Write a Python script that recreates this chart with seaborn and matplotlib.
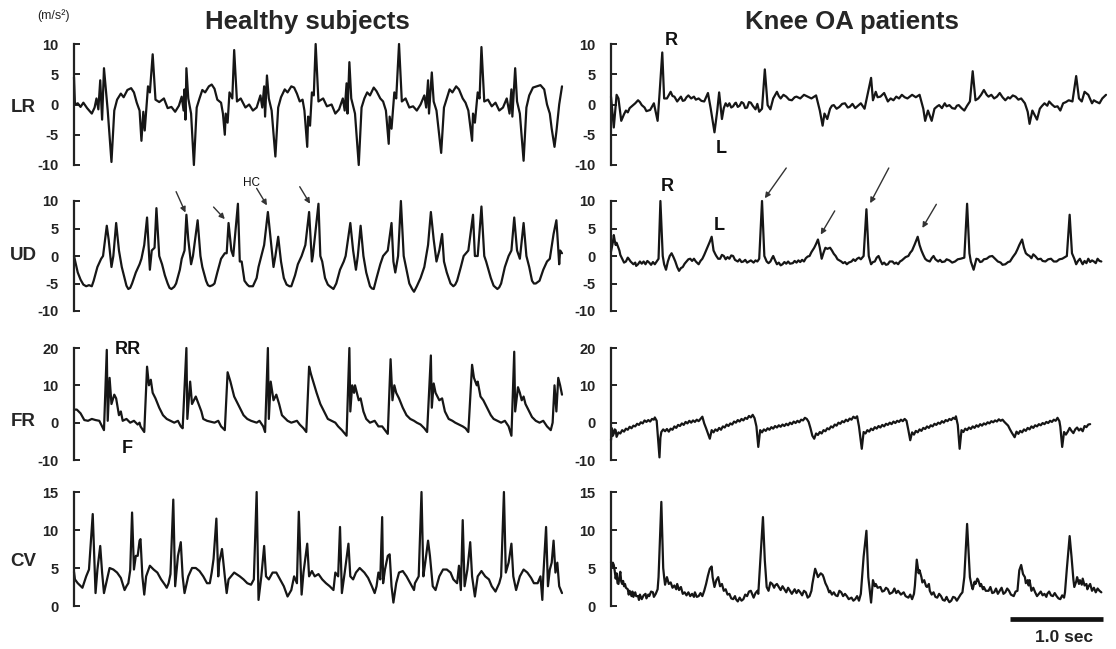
import matplotlib
matplotlib.use("Agg")
import matplotlib.pyplot as plt
import pandas as pd
import seaborn as sns

sns.set_style("white")
plt.rcParams["font.family"] = ["Liberation Sans", "DejaVu Sans"]
plt.rcParams["axes.unicode_minus"] = False

# ---------------- data (time in s, acceleration in m/s^2) ----------------
LR_HEALTHY = [
    (0.00, 4.5), (0.01, 0.0), (0.04, 0.2), (0.07, -0.4), (0.10, 0.3), (0.14, -0.6), (0.19, -1.5),
    (0.22, -0.5), (0.24, 1.0), (0.26, -0.8), (0.28, 4.0), (0.30, -2.5), (0.32, 6.0), (0.34, 2.5),
    (0.36, -1.0), (0.40, -9.5),
    (0.43, -1.0), (0.46, 0.8), (0.50, 1.8), (0.53, 1.2), (0.57, 2.4), (0.61, 2.7), (0.64, 2.0),
    (0.67, 0.3), (0.70, -1.0), (0.72, -6.0), (0.74, -1.2), (0.755, -4.3), (0.79, 3.0), (0.81, 2.0),
    (0.84, 8.3), (0.87, 0.8), (0.91, 0.4), (0.96, 1.0), (1.00, -0.6), (1.04, -0.4), (1.08, -1.2),
    (1.12, -0.2), (1.15, 1.3), (1.17, -1.0), (1.18, 2.5), (1.19, -2.5), (1.20, 6.0), (1.22, 1.0),
    (1.25, -1.5), (1.28, -10.0),
    (1.31, -0.5), (1.34, 1.0), (1.37, 2.4), (1.40, 2.0), (1.44, 3.0), (1.47, 3.3), (1.50, 2.6),
    (1.53, 0.8), (1.57, 0.3), (1.59, -1.5), (1.61, -5.0), (1.62, -1.5), (1.64, -3.0), (1.66, 2.0),
    (1.69, 1.0), (1.71, 9.0), (1.74, 0.5), (1.78, 1.0), (1.83, -0.5), (1.87, 0.0), (1.91, -1.0),
    (1.95, -0.5), (1.99, 1.5), (2.01, -0.5), (2.03, 3.0), (2.04, -2.0), (2.06, 4.8), (2.08, 1.0),
    (2.11, -1.0), (2.15, -8.6),
    (2.18, -0.5), (2.21, 1.2), (2.25, 2.5), (2.28, 2.0), (2.32, 3.0), (2.35, 2.8), (2.38, 1.8),
    (2.41, 0.5), (2.44, 0.8), (2.46, -1.0), (2.49, -7.0), (2.50, -2.0), (2.52, -3.5), (2.54, 2.0),
    (2.56, 1.5), (2.58, 10.0), (2.61, 0.5), (2.66, 1.0), (2.70, -0.3), (2.75, 0.0), (2.79, -1.5),
    (2.83, -0.8), (2.87, 1.0), (2.89, -1.0), (2.91, 3.5), (2.92, -1.5), (2.94, 7.0), (2.96, 1.0),
    (3.00, -1.5), (3.04, -10.0),
    (3.07, -0.5), (3.10, 1.0), (3.13, 2.0), (3.16, 1.5), (3.20, 2.8), (3.23, 2.2), (3.27, 1.0),
    (3.30, 0.5), (3.33, -1.0), (3.36, -6.5), (3.37, -2.0), (3.39, -4.0), (3.42, 2.0), (3.44, 1.0),
    (3.47, 10.0), (3.50, 0.5), (3.54, 1.0), (3.58, -0.5), (3.62, -0.3), (3.66, -1.0), (3.70, 0.0),
    (3.74, 1.5), (3.76, -0.5), (3.78, 4.0), (3.79, -1.5), (3.82, 5.3), (3.84, 0.5), (3.87, -1.0),
    (3.92, -8.0),
    (3.95, -0.5), (3.98, 1.0), (4.01, 2.5), (4.04, 2.0), (4.08, 3.0), (4.11, 2.5), (4.15, 1.0),
    (4.18, 0.3), (4.21, -1.0), (4.25, -6.0), (4.26, -1.5), (4.28, -3.0), (4.31, 2.0), (4.33, 1.0),
    (4.35, 9.5), (4.38, 0.5), (4.42, 0.8), (4.46, -0.3), (4.50, 0.3), (4.54, -1.0), (4.58, -0.5),
    (4.62, 1.0), (4.65, -1.5), (4.67, 2.5), (4.68, -2.0), (4.71, 6.0), (4.73, 0.5), (4.76, -1.5),
    (4.80, -9.3),
    (4.83, -0.5), (4.86, 1.5), (4.90, 2.8), (4.94, 3.0), (4.98, 3.2), (5.02, 2.5), (5.05, 0.0),
    (5.08, -1.5), (5.10, -4.0), (5.13, -7.0), (5.15, -4.5), (5.18, 0.0), (5.21, 3.0),
]

LR_OA = [
    (0.00, 1.3), (0.03, -3.8), (0.06, 1.6), (0.08, 1.0), (0.11, -2.7), (0.14, -1.6), (0.16, -1.0),
    (0.18, -1.3), (0.20, -0.6), (0.23, -0.2), (0.26, 0.2), (0.29, 0.7), (0.31, 0.4), (0.33, -0.1),
    (0.36, -0.5), (0.38, -1.1), (0.42, -0.9), (0.46, 0.2), (0.50, -2.7), (0.52, 1.6), (0.55, 8.6),
    (0.57, 1.0), (0.60, 1.0), (0.64, 2.1), (0.66, 1.4), (0.68, 1.3), (0.71, 0.5), (0.73, 0.9),
    (0.75, 1.3), (0.77, 0.6), (0.79, 0.7), (0.81, 1.2), (0.83, 1.5), (0.86, 1.0), (0.89, 1.3),
    (0.91, 0.8), (0.94, 1.0), (0.97, 0.6), (1.00, 0.5), (1.04, 1.9), (1.07, -0.7), (1.11, -4.6),
    (1.14, -1.0), (1.16, 2.0), (1.19, -2.4), (1.21, -0.6), (1.23, 0.2), (1.25, -0.3), (1.27, 0.2),
    (1.29, -0.5), (1.31, -0.3), (1.33, 0.2), (1.34, 0.3), (1.36, -0.4), (1.38, -0.2), (1.40, 0.4),
    (1.42, 0.2), (1.44, -0.6), (1.46, -0.5), (1.48, 0.4), (1.50, 0.3), (1.52, -0.2), (1.55, -0.8),
    (1.57, 0.1), (1.59, -1.2), (1.62, -0.7), (1.65, 5.8), (1.68, -0.1), (1.71, -0.8), (1.74, 1.0),
    (1.78, 2.1), (1.80, 1.4), (1.82, 1.0), (1.85, 1.6), (1.88, 1.3), (1.91, 0.8), (1.94, 0.7),
    (1.97, 1.2), (1.99, 1.3), (2.03, 1.0), (2.07, 1.6), (2.11, 1.3), (2.15, 1.0), (2.20, 1.5),
    (2.24, -1.0), (2.27, -3.5), (2.29, -1.5), (2.32, -2.4), (2.35, -0.7), (2.37, -0.2),
    (2.39, -0.1), (2.42, -0.7), (2.45, -0.4), (2.48, 0.1), (2.51, 0.2), (2.54, -0.5), (2.56, -0.4),
    (2.59, 0.1), (2.62, -0.6), (2.65, -0.2), (2.68, 0.2), (2.72, -0.7), (2.79, 4.4), (2.81, 0.7),
    (2.84, 2.1), (2.86, 1.2), (2.89, 1.3), (2.93, 1.9), (2.97, 0.5), (3.00, 1.0), (3.03, 0.7),
    (3.06, 1.3), (3.09, 1.0), (3.12, 1.6), (3.15, 1.2), (3.18, 1.0), (3.23, 1.6), (3.27, 1.2),
    (3.31, 1.6), (3.35, -0.7), (3.37, -2.7), (3.40, -1.0), (3.44, -2.7), (3.47, -0.7), (3.50, -0.3),
    (3.52, -0.1), (3.55, -0.6), (3.58, 0.2), (3.60, -0.3), (3.63, -0.1), (3.66, -0.6), (3.69, -0.7),
    (3.71, -0.2), (3.73, -0.1), (3.76, -0.6), (3.79, -1.0), (3.82, -0.2), (3.85, 0.5), (3.88, 5.5),
    (3.91, 0.7), (3.94, 1.0), (3.97, 1.6), (4.00, 2.4), (4.03, 1.6), (4.05, 1.3), (4.08, 1.6),
    (4.11, 1.0), (4.14, 1.3), (4.17, 1.9), (4.20, 1.2), (4.23, 0.7), (4.26, 1.2), (4.28, 1.0),
    (4.31, 1.5), (4.34, 1.3), (4.37, 0.8), (4.40, 1.0), (4.44, 0.2), (4.47, -1.2), (4.49, -3.2),
    (4.52, -1.0), (4.57, -2.5), (4.60, -0.7), (4.62, -0.3), (4.65, 0.2), (4.68, -0.2), (4.70, 0.5),
    (4.73, 0.0), (4.76, -0.4), (4.79, -0.3), (4.82, -1.0), (4.85, 0.2), (4.88, 0.4), (4.91, 0.7),
    (4.95, 0.5), (4.99, 4.7), (5.02, 1.0), (5.05, 0.5), (5.08, 2.1), (5.12, 1.6), (5.16, 0.2),
    (5.18, 0.7), (5.20, 0.5), (5.24, 0.2), (5.27, 1.0), (5.31, 1.6),
]

UD_HEALTHY = [
    (0.00, 0.0), (0.04, -3.0), (0.07, -4.3), (0.10, -5.2), (0.13, -5.5), (0.16, -5.3), (0.19, -5.5),
    (0.21, -4.5), (0.25, -2.0), (0.29, -0.5), (0.31, 0.0), (0.35, 5.5), (0.37, 3.0), (0.40, -2.0),
    (0.42, 0.0), (0.45, 6.0), (0.48, 1.0), (0.51, -2.0), (0.54, -4.0), (0.56, -5.4), (0.58, -6.0),
    (0.60, -5.8), (0.62, -5.0), (0.66, -3.0), (0.70, -1.5), (0.72, -0.5), (0.75, 2.0), (0.78, 7.0),
    (0.81, -2.5), (0.83, 1.0), (0.86, 1.5), (0.88, 8.7), (0.91, 0.0), (0.94, -1.5), (0.97, -3.5),
    (1.00, -5.0), (1.02, -5.8), (1.04, -6.0), (1.07, -5.6),
    (1.09, -5.0), (1.13, -2.5), (1.15, -0.5), (1.18, 1.0), (1.20, 7.5), (1.22, 3.0), (1.25, -1.5),
    (1.27, 0.0), (1.32, 6.5), (1.35, 0.0), (1.37, -2.0), (1.41, -4.5), (1.43, -5.3), (1.45, -5.5),
    (1.48, -5.3), (1.50, -5.0), (1.53, -3.0), (1.57, -0.5), (1.61, 0.5), (1.63, 0.5), (1.65, 6.0),
    (1.68, 1.0), (1.70, 0.0), (1.75, 9.5), (1.77, -1.0), (1.79, -1.0), (1.82, -4.5), (1.85, -5.2),
    (1.87, -5.5), (1.91, -5.5),
    (1.95, -4.0), (1.97, -2.0), (2.00, 0.0), (2.03, 2.0), (2.07, 8.0), (2.10, 3.0), (2.13, -2.0),
    (2.15, 0.0), (2.18, 3.5), (2.21, -1.0), (2.24, -4.0), (2.27, -5.2), (2.30, -5.5), (2.32, -5.5),
    (2.36, -3.5), (2.39, -1.5), (2.43, 0.0), (2.47, 2.0), (2.51, 8.0), (2.54, -1.0), (2.55, 0.0),
    (2.61, 9.5), (2.63, 0.0), (2.65, -1.0), (2.68, -4.0), (2.71, -5.2), (2.73, -5.5), (2.77, -6.0),
    (2.80, -5.0), (2.84, -2.5), (2.88, -1.0), (2.90, 0.0), (2.95, 6.0), (2.98, 1.0), (3.01, -2.5),
    (3.03, 0.0), (3.06, 5.5), (3.09, 0.0), (3.12, -3.0), (3.16, -5.5), (3.18, -5.9), (3.20, -6.0),
    (3.23, -4.0), (3.27, -1.5), (3.30, 0.0), (3.35, 1.0), (3.39, 6.0), (3.41, -1.0), (3.43, -3.0),
    (3.46, 0.0), (3.49, 10.0), (3.52, 0.0), (3.55, -2.5), (3.58, -5.0), (3.61, -6.0), (3.63, -6.5),
    (3.66, -5.5), (3.70, -4.0), (3.74, -2.0), (3.76, 0.0), (3.78, 2.0), (3.81, 8.0), (3.84, 3.0),
    (3.87, -1.0), (3.90, 1.0), (3.93, 4.0), (3.95, -1.0), (3.98, -3.0), (4.02, -5.0), (4.05, -5.5),
    (4.07, -5.2), (4.09, -4.5), (4.13, -2.0), (4.16, 0.0), (4.21, 1.0), (4.26, 7.5), (4.28, 0.0),
    (4.31, 0.0), (4.35, 9.0), (4.38, 0.0), (4.40, -1.0), (4.45, -4.0), (4.48, -5.4), (4.52, -6.0),
    (4.54, -5.7), (4.56, -5.0), (4.60, -2.0), (4.64, 0.0), (4.67, 1.0), (4.70, 7.0), (4.73, 1.0),
    (4.76, -0.5), (4.80, 6.0), (4.83, 0.0), (4.86, -2.0), (4.89, -4.5), (4.91, -5.0), (4.93, -5.0),
    (4.97, -4.5), (5.01, -2.5), (5.05, -1.0), (5.08, -0.5), (5.12, 4.0), (5.15, 6.5), (5.16, 4.0),
    (5.18, -1.5), (5.19, 1.0), (5.21, 0.5),
]

UD_OA = [
    (0.00, 0.8), (0.02, 2.5), (0.03, 3.8), (0.04, 2.8), (0.05, 2.0), (0.06, 2.4), (0.08, 1.5),
    (0.09, 1.0), (0.10, 0.2), (0.12, -0.5), (0.14, -1.2), (0.16, -1.0), (0.18, -0.3), (0.19, -0.5),
    (0.21, -1.0), (0.24, -1.5), (0.26, -1.2), (0.27, -1.8), (0.29, -1.5), (0.31, -1.0), (0.33, -1.4),
    (0.35, -1.0), (0.37, -1.5), (0.39, -0.9), (0.41, -1.2), (0.43, -1.6), (0.45, -1.1), (0.47, -1.5),
    (0.49, -1.0), (0.51, -0.5), (0.53, 10.0), (0.555, 0.0), (0.57, -1.5), (0.59, -2.5), (0.61, -1.0),
    (0.63, 0.0), (0.65, 0.5), (0.67, -0.2), (0.69, -1.0), (0.71, -2.0), (0.73, -2.7), (0.75, -2.2),
    (0.77, -2.0), (0.79, -1.4), (0.81, -1.0), (0.83, -0.6), (0.85, -0.5), (0.87, -0.9), (0.89, -0.5),
    (0.91, -1.0), (0.94, -1.5), (0.96, -0.9), (0.98, -0.5), (1.00, 0.2), (1.02, 1.0), (1.04, 1.8),
    (1.06, 2.6), (1.08, 3.5), (1.09, 2.2), (1.10, 1.0), (1.12, 0.3), (1.13, 0.0), (1.15, -0.5),
    (1.17, -0.5), (1.19, 0.2), (1.21, 0.0), (1.23, -0.6), (1.25, -0.2), (1.27, -0.5), (1.29, 0.1),
    (1.31, 0.0), (1.33, -0.7), (1.36, -1.0), (1.38, -0.6), (1.40, -1.1), (1.42, -1.0), (1.44, -0.7),
    (1.46, -1.2), (1.48, -1.0), (1.50, -0.8), (1.53, -1.2), (1.55, -0.8), (1.57, -1.0), (1.59, -0.5),
    (1.62, 10.0), (1.645, 0.0), (1.67, -1.0), (1.69, -1.3), (1.71, -1.0), (1.73, -0.3), (1.74, 0.0),
    (1.76, -0.8), (1.78, -1.5), (1.80, -1.2), (1.82, -1.7), (1.84, -1.5), (1.86, -1.1), (1.88, -1.4),
    (1.90, -1.0), (1.92, -1.4), (1.95, -1.3), (1.97, -0.9), (1.99, -1.2), (2.01, -0.8), (2.03, -1.1),
    (2.05, -0.7), (2.07, -1.0), (2.09, -0.4), (2.11, -0.1), (2.13, 0.0), (2.15, 0.7), (2.18, 1.5),
    (2.20, 2.2), (2.22, 3.0), (2.24, 1.5), (2.26, -0.5), (2.28, 0.6), (2.30, 1.5), (2.32, 1.3),
    (2.35, 1.5), (2.37, 1.0), (2.39, 0.4), (2.41, 0.0), (2.43, -0.6), (2.45, -0.8), (2.47, -1.0),
    (2.49, -1.3), (2.51, -1.1), (2.53, -1.5), (2.55, -1.2), (2.58, -1.0), (2.60, -0.6), (2.62, -0.9),
    (2.64, -0.5), (2.66, -0.3), (2.68, -0.6), (2.71, 0.0), (2.74, 8.5), (2.765, 0.0), (2.79, -1.5),
    (2.81, -1.1), (2.83, -1.0), (2.85, -0.3), (2.87, 0.0), (2.89, -0.8), (2.91, -1.5), (2.93, -1.2),
    (2.95, -1.6), (2.97, -1.5), (2.99, -1.0), (3.02, -1.0), (3.04, -1.4), (3.06, -1.2), (3.08, -1.5),
    (3.10, -1.0), (3.12, -0.8), (3.14, -0.5), (3.16, -0.2), (3.19, 0.0), (3.21, 0.6), (3.23, 1.0),
    (3.26, 2.2), (3.29, 3.5), (3.31, 2.0), (3.33, 1.0), (3.35, 0.2), (3.37, -0.5), (3.39, -0.8),
    (3.42, -1.0), (3.44, -0.4), (3.46, 0.0), (3.48, -0.6), (3.51, -1.0), (3.53, -0.7), (3.55, -1.1),
    (3.58, -1.0), (3.60, -0.6), (3.63, -0.8), (3.66, -1.2), (3.69, -1.0), (3.72, -0.6), (3.75, -0.5),
    (3.79, -0.3), (3.82, 9.5), (3.845, 0.5), (3.86, -1.0), (3.89, -2.5), (3.91, -1.2), (3.92, -0.5),
    (3.94, -0.6), (3.96, -1.1), (3.98, -1.0), (4.00, -0.6), (4.03, -0.5), (4.06, -0.1), (4.09, 0.0),
    (4.12, -0.5), (4.15, -1.0), (4.18, -1.2), (4.20, -1.6), (4.23, -1.5), (4.26, -1.1), (4.28, -1.0),
    (4.31, -0.2), (4.34, 0.5), (4.36, 1.2), (4.38, 2.0), (4.41, 3.0), (4.43, 1.5), (4.45, 0.5),
    (4.47, 0.2), (4.49, 0.0), (4.51, -0.4), (4.53, 0.3), (4.55, 0.0), (4.58, -0.6), (4.61, -0.5),
    (4.63, -0.9), (4.66, -1.0), (4.69, -0.6), (4.72, -0.5), (4.75, -1.0), (4.78, -1.0), (4.81, -0.6),
    (4.84, -0.5), (4.87, -0.2), (4.89, 0.0), (4.92, 7.5), (4.945, 0.5), (4.97, -0.5), (4.99, -1.5),
    (5.01, -0.9), (5.03, -0.5), (5.05, -1.2), (5.06, -1.5), (5.08, -0.9), (5.10, -1.3), (5.12, -0.5),
    (5.14, -1.1), (5.16, -0.8), (5.18, -1.0), (5.20, -1.3), (5.22, -0.5), (5.24, -0.9), (5.26, -1.0),
]

FR_HEALTHY = [
    (0.00, 3.5), (0.03, 3.5), (0.07, 2.5), (0.11, 0.7), (0.15, 0.5), (0.19, 1.0), (0.23, 0.7),
    (0.27, 0.5), (0.30, -1.0), (0.32, -2.0), (0.35, 19.5), (0.36, 0.5), (0.38, 12.0), (0.40, 5.0),
    (0.43, 7.5), (0.45, 6.5), (0.48, 2.0), (0.50, 3.0), (0.52, 0.5), (0.56, 1.0), (0.60, 0.0),
    (0.64, 0.5), (0.68, -0.5), (0.70, 0.0), (0.71, -1.0), (0.75, -2.5), (0.78, 15.0), (0.80, 10.0),
    (0.82, 11.5), (0.84, 8.0), (0.87, 6.5), (0.91, 4.0), (0.95, 2.0), (0.99, 1.0), (1.03, 0.5),
    (1.07, 0.0), (1.11, 0.5), (1.14, -1.0), (1.16, -1.5), (1.20, 20.0), (1.21, 1.0), (1.24, 11.0),
    (1.26, 5.0), (1.30, 7.0), (1.33, 5.0), (1.36, 3.0), (1.38, 1.0), (1.42, 0.5), (1.50, 0.0),
    (1.54, 0.5), (1.57, -1.0), (1.61, -2.0), (1.64, 13.5), (1.67, 11.0), (1.71, 7.0), (1.75, 5.0),
    (1.79, 3.0), (1.81, 2.0), (1.85, 1.0), (1.89, 0.5), (1.95, 0.0), (1.98, 0.5), (2.02, -1.0),
    (2.04, -2.5), (2.07, 20.0), (2.08, 1.0), (2.10, 11.0), (2.13, 6.0), (2.16, 7.5), (2.19, 5.0),
    (2.22, 2.0), (2.24, 1.5), (2.28, 0.5), (2.32, 0.0), (2.38, 0.5), (2.41, -0.5), (2.45, -1.5),
    (2.48, -2.5), (2.51, 15.0), (2.53, 13.0), (2.56, 10.5), (2.59, 8.0), (2.63, 5.0), (2.67, 3.0),
    (2.71, 1.0), (2.75, 0.5), (2.79, 0.0), (2.82, -1.0), (2.86, -2.0), (2.91, -3.5), (2.94, 20.0),
    (2.95, 3.0), (2.97, 10.0), (2.99, 8.0), (3.00, 10.0), (3.04, 6.0), (3.06, 6.5), (3.09, 3.0),
    (3.12, 1.0), (3.16, 0.0), (3.21, 0.5), (3.25, -1.0), (3.29, -1.0), (3.32, -2.0), (3.35, -3.0),
    (3.38, 17.0), (3.40, 6.0), (3.42, 10.0), (3.44, 8.0), (3.47, 6.5), (3.51, 4.0), (3.55, 2.0),
    (3.59, 1.0), (3.63, 0.5), (3.66, 0.0), (3.70, -0.5), (3.74, -1.5), (3.77, -2.5), (3.81, 18.0),
    (3.82, 4.0), (3.84, 10.5), (3.86, 8.0), (3.90, 6.0), (3.93, 6.5), (3.96, 3.0), (4.00, 1.0),
    (4.04, 0.5), (4.07, 0.0), (4.11, -0.5), (4.15, -1.0), (4.18, -1.5), (4.21, -2.5), (4.25, 15.5),
    (4.27, 12.0), (4.30, 10.0), (4.31, 11.0), (4.34, 7.0), (4.37, 6.0), (4.41, 4.0), (4.45, 2.0),
    (4.48, 1.0), (4.52, 0.5), (4.56, 0.0), (4.60, 0.5), (4.64, -1.0), (4.67, -3.5), (4.70, 19.0),
    (4.71, 3.0), (4.74, 9.5), (4.76, 8.0), (4.78, 6.0), (4.80, 7.0), (4.82, 5.0), (4.86, 3.0),
    (4.89, 1.5), (4.93, 0.5), (4.97, 0.0), (5.01, 0.5), (5.05, -1.0), (5.09, -2.0), (5.11, 0.0),
    (5.13, 10.0), (5.15, 3.0), (5.17, 12.0), (5.19, 10.0), (5.21, 7.5),
]

FR_OA = [
    (0.00, -4.7), (0.01, -1.5), (0.02, -3.5), (0.03, -2.9), (0.04, -1.8), (0.05, -2.0), (0.06, -3.8),
    (0.08, -2.6), (0.10, -2.9), (0.12, -2.0), (0.14, -2.4), (0.16, -1.6), (0.18, -1.9), (0.20, -1.1),
    (0.22, -1.5), (0.24, -0.8), (0.26, -1.0), (0.28, -0.3), (0.30, -0.6), (0.32, 0.1), (0.34, -0.2),
    (0.36, 0.6), (0.38, 0.2), (0.40, 0.7), (0.42, 0.3), (0.44, 1.0), (0.46, 0.8), (0.47, 1.4),
    (0.49, 0.5), (0.50, -2.9), (0.52, -9.3), (0.53, -4.0),
    (0.54, -2.5), (0.56, -1.8), (0.58, -2.3), (0.60, -1.7), (0.62, -2.4), (0.64, -1.6), (0.66, -1.9),
    (0.68, -1.0), (0.70, -1.4), (0.72, -0.6), (0.74, -0.9), (0.76, -0.2), (0.78, -0.6), (0.80, 0.2),
    (0.82, -0.2), (0.84, 0.5), (0.86, 0.0), (0.88, 0.6), (0.90, 0.2), (0.92, 0.8), (0.94, 0.4),
    (0.96, 1.0), (0.98, 1.6), (1.00, -0.2), (1.02, -1.5), (1.04, -2.9), (1.06, -4.3), (1.08, -2.0),
    (1.10, -2.6), (1.12, -1.8), (1.14, -2.2), (1.16, -1.4), (1.18, -1.9), (1.20, -1.0), (1.22, -1.3),
    (1.24, -0.5), (1.26, -0.9), (1.28, -0.2), (1.30, -0.5), (1.32, 0.3), (1.34, 0.0), (1.36, 0.7),
    (1.38, 0.3), (1.40, 1.0), (1.42, 0.6), (1.44, 1.3), (1.46, 1.0), (1.48, 1.8), (1.50, 1.4),
    (1.52, 2.1), (1.54, 1.2), (1.56, -1.0), (1.58, -6.5), (1.60, -2.0),
    (1.62, -2.6), (1.64, -1.8), (1.66, -2.2), (1.68, -1.5), (1.70, -1.9), (1.72, -1.2), (1.74, -1.6),
    (1.76, -0.9), (1.78, -1.3), (1.80, -0.7), (1.82, -1.1), (1.84, -0.5), (1.86, -0.9), (1.88, -0.3),
    (1.90, -0.7), (1.92, 0.0), (1.94, -0.4), (1.96, 0.3), (1.98, -0.1), (2.00, 0.5), (2.02, 0.1),
    (2.04, 0.8), (2.06, 0.6), (2.08, 1.3), (2.10, 1.0), (2.12, 0.2), (2.14, -1.5), (2.16, -3.5),
    (2.18, -4.3), (2.20, -2.9),
    (2.22, -3.3), (2.24, -2.5), (2.26, -2.9), (2.28, -2.0), (2.30, -2.3), (2.32, -1.5), (2.34, -1.8),
    (2.36, -1.0), (2.38, -1.3), (2.40, -0.5), (2.42, -0.8), (2.44, 0.0), (2.46, -0.3), (2.48, 0.4),
    (2.50, 0.1), (2.52, 0.8), (2.54, 0.4), (2.56, 1.1), (2.58, 0.8), (2.60, 1.6), (2.62, 1.2),
    (2.64, 1.7), (2.66, -1.0), (2.69, -7.0), (2.71, -2.5),
    (2.73, -2.9), (2.75, -2.0), (2.77, -2.4), (2.79, -1.6), (2.81, -2.0), (2.83, -1.2), (2.85, -1.6),
    (2.87, -0.9), (2.89, -1.3), (2.91, -0.6), (2.93, -1.0), (2.95, -0.3), (2.97, -0.6), (2.99, 0.0),
    (3.01, -0.4), (3.03, 0.3), (3.05, -0.1), (3.07, 0.5), (3.09, 0.2), (3.11, 0.8), (3.13, 0.4),
    (3.15, 1.0), (3.17, 0.5), (3.19, -2.0), (3.21, -4.7), (3.23, -2.6),
    (3.25, -3.2), (3.27, -2.2), (3.29, -2.6), (3.31, -1.8), (3.33, -2.2), (3.35, -1.4), (3.37, -1.7),
    (3.39, -1.0), (3.41, -1.4), (3.43, -0.7), (3.45, -1.0), (3.47, -0.3), (3.49, -0.6), (3.51, 0.0),
    (3.53, -0.3), (3.55, 0.4), (3.57, 0.0), (3.59, 0.7), (3.61, 0.4), (3.63, 1.0), (3.65, 0.7),
    (3.67, 1.3), (3.69, 1.0), (3.70, 1.7), (3.72, -0.6), (3.74, -7.0), (3.76, -2.0),
    (3.78, -2.5), (3.80, -1.6), (3.82, -2.0), (3.84, -1.3), (3.86, -1.7), (3.88, -1.0), (3.90, -1.4),
    (3.92, -0.7), (3.94, -1.1), (3.96, -0.4), (3.98, -0.8), (4.00, -0.2), (4.02, -0.5), (4.04, 0.1),
    (4.06, -0.2), (4.08, 0.4), (4.10, 0.1), (4.12, 0.6), (4.14, 0.3), (4.16, 0.9), (4.18, 0.5),
    (4.20, 0.8), (4.22, 0.2), (4.24, -0.3), (4.26, -0.8), (4.28, -1.8), (4.30, -2.7), (4.33, -3.9),
    (4.35, -2.4), (4.37, -3.0),
    (4.39, -2.2), (4.41, -2.6), (4.43, -1.8), (4.45, -2.2), (4.47, -1.4), (4.49, -1.8), (4.51, -1.0),
    (4.53, -1.4), (4.55, -0.7), (4.57, -1.0), (4.59, -0.4), (4.61, -0.7), (4.63, -0.1), (4.65, -0.4),
    (4.67, 0.2), (4.69, -0.1), (4.71, 0.5), (4.73, 0.2), (4.75, 0.8), (4.77, 0.5), (4.79, 1.3),
    (4.81, 0.4), (4.82, -1.1), (4.84, -6.5), (4.86, -2.5),
    (4.88, -3.2), (4.90, -2.4), (4.92, -1.4), (4.94, -2.2), (4.96, -2.8), (4.98, -1.8), (5.00, -1.3),
    (5.02, -2.1), (5.04, -1.6), (5.06, -2.3), (5.08, -0.9), (5.10, -1.2), (5.12, -0.5), (5.14, -0.4),
]

CV_HEALTHY = [
    (0.00, 4.5), (0.01, 3.5), (0.04, 3.0), (0.09, 2.4), (0.13, 3.9), (0.16, 4.8), (0.20, 12.1),
    (0.23, 1.7), (0.25, 4.8), (0.28, 7.9), (0.30, 4.4), (0.32, 1.7), (0.36, 3.9), (0.38, 5.0),
    (0.42, 4.8), (0.46, 4.4), (0.50, 3.7), (0.54, 2.1), (0.56, 2.6), (0.58, 3.0), (0.60, 4.7),
    (0.62, 12.3), (0.64, 4.8), (0.66, 6.6), (0.68, 6.6), (0.70, 8.6), (0.71, 8.8), (0.73, 3.9),
    (0.75, 1.5), (0.77, 3.9), (0.81, 5.3), (0.85, 4.8), (0.89, 4.4), (0.93, 3.5), (0.97, 2.8),
    (0.99, 2.4), (1.01, 3.0), (1.03, 4.2), (1.06, 14.0), (1.08, 2.6), (1.11, 6.6), (1.14, 8.4),
    (1.16, 3.9), (1.18, 1.7), (1.22, 3.9), (1.26, 5.0), (1.30, 5.0), (1.34, 4.6), (1.38, 3.9),
    (1.42, 3.0), (1.45, 3.0), (1.47, 4.4), (1.49, 6.2), (1.52, 11.5), (1.54, 3.9), (1.55, 5.7),
    (1.58, 7.5), (1.61, 3.9), (1.63, 1.7), (1.65, 3.5), (1.71, 4.4), (1.77, 3.9), (1.81, 3.5),
    (1.85, 3.0), (1.89, 2.8), (1.92, 3.5), (1.95, 15.0), (1.97, 0.8), (2.00, 3.9), (2.03, 7.9),
    (2.05, 3.9), (2.08, 3.5), (2.12, 4.4), (2.16, 4.4), (2.20, 3.5), (2.24, 2.6), (2.28, 1.25),
    (2.32, 2.1), (2.35, 3.9), (2.38, 3.0), (2.40, 12.4), (2.43, 1.5), (2.45, 4.4), (2.49, 8.2),
    (2.51, 3.9), (2.54, 4.6), (2.57, 3.9), (2.61, 4.2), (2.65, 3.5), (2.69, 3.0), (2.73, 2.6),
    (2.77, 2.1), (2.79, 4.4), (2.82, 3.9), (2.84, 10.4), (2.86, 1.7), (2.89, 4.4), (2.93, 8.2),
    (2.95, 3.9), (2.98, 3.5), (3.01, 4.4), (3.05, 5.0), (3.10, 4.4), (3.14, 3.7), (3.18, 2.6),
    (3.21, 1.7), (3.23, 2.6), (3.25, 4.4), (3.27, 3.5), (3.29, 11.7), (3.30, 3.0), (3.32, 4.8),
    (3.35, 6.6), (3.37, 6.8), (3.39, 2.6), (3.41, 0.45), (3.44, 3.0), (3.47, 4.4), (3.51, 4.6),
    (3.55, 3.9), (3.59, 3.0), (3.63, 2.1), (3.64, 3.0), (3.68, 3.9), (3.71, 15.0), (3.73, 3.9),
    (3.75, 5.7), (3.78, 8.6), (3.80, 6.6), (3.83, 2.6), (3.86, 2.1), (3.90, 3.9), (3.94, 4.8),
    (3.98, 4.8), (4.02, 4.4), (4.05, 3.5), (4.09, 3.0), (4.11, 5.3), (4.13, 2.1), (4.15, 11.3),
    (4.17, 2.6), (4.20, 4.8), (4.23, 8.4), (4.25, 3.9), (4.28, 1.25), (4.31, 3.9), (4.35, 4.6),
    (4.39, 3.9), (4.43, 3.5), (4.46, 2.6), (4.50, 1.9), (4.54, 3.0), (4.56, 3.9), (4.59, 15.0),
    (4.61, 4.4), (4.64, 5.7), (4.67, 8.2), (4.69, 3.9), (4.72, 2.1), (4.76, 3.9), (4.80, 4.8),
    (4.84, 4.4), (4.88, 3.7), (4.91, 3.0), (4.95, 3.0), (4.98, 3.9), (5.00, 0.8), (5.01, 3.9),
    (5.04, 10.4), (5.06, 2.6), (5.08, 4.8), (5.10, 5.7), (5.12, 8.6), (5.14, 4.4), (5.16, 5.7),
    (5.18, 2.6), (5.21, 1.7),
]

CV_OA = [
    (0.00, 5.8), (0.01, 5.2), (0.02, 5.7), (0.03, 5.4), (0.04, 4.6), (0.05, 3.6), (0.06, 4.3),
    (0.07, 3.0), (0.08, 2.9), (0.09, 3.8), (0.10, 4.5), (0.11, 3.2), (0.12, 2.9), (0.13, 3.3),
    (0.14, 2.6), (0.15, 2.9), (0.16, 2.4), (0.18, 2.2), (0.19, 1.5), (0.20, 2.0), (0.22, 1.3),
    (0.23, 1.9), (0.24, 1.2), (0.26, 1.8), (0.27, 1.3), (0.29, 1.3), (0.30, 0.8), (0.31, 1.5),
    (0.33, 0.9), (0.35, 1.4), (0.37, 1.6), (0.38, 1.0), (0.40, 1.5), (0.41, 1.3), (0.43, 1.9),
    (0.45, 1.8), (0.46, 1.2), (0.48, 1.6), (0.50, 2.2), (0.51, 3.8), (0.54, 13.7), (0.56, 5.0),
    (0.57, 3.8), (0.58, 2.8), (0.60, 3.8), (0.62, 2.9), (0.64, 3.1), (0.66, 2.4), (0.68, 2.7),
    (0.70, 2.2), (0.71, 2.9), (0.73, 2.1), (0.75, 2.5), (0.77, 1.6), (0.79, 1.8), (0.81, 1.4),
    (0.83, 1.8), (0.85, 1.3), (0.87, 1.6), (0.89, 1.2), (0.90, 1.8), (0.92, 1.2), (0.94, 1.3),
    (0.96, 1.7), (0.98, 1.3), (1.00, 2.0), (1.02, 2.9), (1.04, 4.0), (1.06, 4.9), (1.08, 5.2),
    (1.09, 3.8), (1.11, 2.5), (1.13, 3.4), (1.15, 3.8), (1.17, 2.6), (1.19, 2.9), (1.21, 2.0),
    (1.23, 2.2), (1.25, 1.5), (1.27, 1.6), (1.29, 1.0), (1.31, 0.9), (1.33, 1.3), (1.34, 0.9),
    (1.36, 0.6), (1.38, 1.1), (1.40, 0.7), (1.42, 0.9), (1.44, 1.5), (1.46, 1.3), (1.48, 1.9),
    (1.50, 2.0), (1.52, 1.4), (1.53, 1.1), (1.55, 1.7), (1.57, 2.0), (1.58, 1.6), (1.60, 5.6),
    (1.63, 11.7), (1.65, 6.0), (1.67, 2.5), (1.69, 2.0), (1.71, 3.1), (1.73, 2.9), (1.75, 2.4),
    (1.76, 2.7), (1.78, 2.9), (1.80, 2.5), (1.82, 2.1), (1.84, 2.6), (1.86, 2.2), (1.88, 1.8),
    (1.90, 2.4), (1.92, 2.0), (1.94, 1.6), (1.97, 2.2), (1.99, 1.7), (2.01, 2.1), (2.03, 1.8),
    (2.05, 1.4), (2.07, 2.0), (2.09, 1.8), (2.11, 1.1), (2.13, 1.3), (2.15, 2.0), (2.16, 2.9),
    (2.19, 4.9), (2.21, 4.2), (2.22, 3.8), (2.25, 4.3), (2.27, 4.1), (2.28, 3.8), (2.30, 3.0),
    (2.32, 2.5), (2.34, 1.8), (2.35, 2.0), (2.37, 1.5), (2.39, 1.8), (2.41, 1.4), (2.43, 1.3),
    (2.45, 2.0), (2.47, 1.8), (2.49, 1.3), (2.51, 1.6), (2.53, 1.3), (2.55, 0.9), (2.58, 1.1),
    (2.60, 0.7), (2.62, 0.9), (2.64, 1.3), (2.66, 0.7), (2.68, 1.6), (2.71, 6.5), (2.74, 9.9),
    (2.76, 3.8), (2.78, 1.5), (2.79, 0.45), (2.81, 3.4), (2.83, 2.6), (2.84, 2.9), (2.86, 2.4),
    (2.89, 2.5), (2.91, 1.9), (2.93, 2.0), (2.95, 2.4), (2.97, 2.2), (2.99, 1.6), (3.02, 1.8),
    (3.04, 2.3), (3.06, 1.7), (3.08, 2.0), (3.11, 1.5), (3.14, 1.8), (3.16, 1.3), (3.19, 1.1),
    (3.21, 1.5), (3.23, 0.9), (3.25, 1.6), (3.26, 2.7), (3.28, 6.1), (3.30, 4.3), (3.31, 4.7),
    (3.33, 3.8), (3.34, 3.1), (3.36, 3.4), (3.38, 2.6), (3.39, 2.5), (3.41, 2.9), (3.42, 2.0),
    (3.44, 1.5), (3.46, 1.8), (3.48, 1.2), (3.50, 1.1), (3.52, 1.6), (3.54, 1.3), (3.56, 0.8),
    (3.58, 0.7), (3.60, 1.2), (3.61, 0.9), (3.63, 0.5), (3.65, 0.7), (3.67, 1.2), (3.69, 1.1),
    (3.71, 0.7), (3.73, 1.1), (3.75, 1.5), (3.77, 1.8), (3.79, 3.8), (3.82, 10.8), (3.84, 6.0),
    (3.85, 3.8), (3.87, 2.6), (3.88, 2.2), (3.90, 3.2), (3.91, 2.9), (3.93, 3.6), (3.94, 3.4),
    (3.96, 2.6), (3.97, 2.9), (3.99, 2.2), (4.00, 2.5), (4.02, 2.0), (4.05, 2.0), (4.07, 2.5),
    (4.09, 1.7), (4.11, 1.8), (4.13, 2.3), (4.15, 1.6), (4.17, 2.0), (4.19, 2.4), (4.21, 1.6),
    (4.23, 1.8), (4.25, 2.3), (4.27, 2.0), (4.29, 1.5), (4.32, 1.3), (4.34, 1.9), (4.36, 2.0),
    (4.38, 4.7), (4.40, 5.4), (4.42, 4.2), (4.44, 3.8), (4.45, 3.0), (4.47, 3.4), (4.48, 2.7),
    (4.49, 3.4), (4.51, 2.0), (4.53, 2.4), (4.55, 1.8), (4.57, 1.3), (4.59, 1.6), (4.61, 1.9),
    (4.63, 1.4), (4.65, 1.6), (4.67, 1.2), (4.68, 1.6), (4.70, 1.9), (4.72, 1.4), (4.74, 1.3),
    (4.76, 1.7), (4.78, 1.3), (4.80, 1.0), (4.82, 0.9), (4.84, 1.4), (4.86, 1.1), (4.87, 1.8),
    (4.89, 4.9), (4.92, 9.2), (4.94, 6.5), (4.96, 3.5), (4.97, 2.5), (4.99, 3.2), (5.00, 3.8),
    (5.02, 2.9), (5.03, 3.4), (5.05, 2.8), (5.06, 3.6), (5.08, 2.7), (5.10, 2.9), (5.11, 2.2),
    (5.12, 2.5), (5.14, 2.9), (5.16, 2.0), (5.18, 2.4), (5.20, 1.8), (5.22, 2.3), (5.24, 2.0),
    (5.26, 1.8),
]

ROW_NAMES = ["LR", "UD", "FR", "CV"]
COLUMN_TITLES = ["Healthy subjects", "Knee OA patients"]
Y_LIMITS = {"LR": (-10, 10), "UD": (-10, 10), "FR": (-10, 20), "CV": (0, 15)}
Y_TICKS = {"LR": [-10, -5, 0, 5, 10], "UD": [-10, -5, 0, 5, 10],
           "FR": [-10, 0, 10, 20], "CV": [0, 5, 10, 15]}
SERIES = {
    ("LR", 0): LR_HEALTHY, ("LR", 1): LR_OA,
    ("UD", 0): UD_HEALTHY, ("UD", 1): UD_OA,
    ("FR", 0): FR_HEALTHY, ("FR", 1): FR_OA,
    ("CV", 0): CV_HEALTHY, ("CV", 1): CV_OA,
}
X_SPAN = [5.21, 5.31]  # seconds shown in each column

# ---------------- layout (pixel geometry of the reference) ----------------
W, H = 1116, 649
fig = plt.figure(figsize=(W / 100, H / 100), dpi=100)

col_x = [(74, 562), (611, 1106)]
row_y = {"LR": (44, 165), "UD": (201, 311), "FR": (348, 460), "CV": (492, 606)}
row_label_y = {"LR": 108, "UD": 256, "FR": 421, "CV": 561}

LINE_COLOR = "#161616"
axes = {}
for r in ROW_NAMES:
    for c in range(2):
        x0, x1 = col_x[c]
        y0, y1 = row_y[r]
        ax = fig.add_axes([x0 / W, 1 - y1 / H, (x1 - x0) / W, (y1 - y0) / H])
        df = pd.DataFrame(SERIES[(r, c)], columns=["t", "v"])
        sns.lineplot(data=df, x="t", y="v", ax=ax, color=LINE_COLOR, linewidth=1.6,
                     estimator=None, sort=False, legend=False)
        for ln in ax.lines:
            ln.set_clip_on(False)
        ax.set_xlim(0, X_SPAN[c])
        ax.set_ylim(*Y_LIMITS[r])
        ax.set_yticks(Y_TICKS[r])
        ax.set_xticks([])
        ax.set_xlabel("")
        ax.set_ylabel("")
        for s in ["top", "right", "bottom"]:
            ax.spines[s].set_visible(False)
        ax.spines["left"].set_linewidth(1.6)
        ax.spines["left"].set_color("#222222")
        ax.tick_params(axis="y", left=True, direction="in", length=4, width=1.4, pad=11,
                       labelsize=10.5, colors="#222222")
        for lab in ax.get_yticklabels():
            lab.set_fontweight("bold")
        ax.patch.set_alpha(0)
        axes[(r, c)] = ax

# column titles, unit, row labels
fig.text(307 / W, 1 - 22 / H, COLUMN_TITLES[0], ha="center", va="center",
         fontsize=18.5, fontweight="bold")
fig.text(852 / W, 1 - 22 / H, COLUMN_TITLES[1], ha="center", va="center",
         fontsize=18.5, fontweight="bold")
fig.text(54 / W, 1 - 16 / H, "(m/s²)", ha="center", va="center", fontsize=9)
for r in ROW_NAMES:
    fig.text(23 / W, 1 - row_label_y[r] / H, r, ha="center", va="center",
             fontsize=13.5, fontweight="bold")

# marker letters
lab_kw = dict(ha="center", va="center", fontsize=13, fontweight="bold", color="#111111")
axes[("LR", 1)].text(0.65, 10.6, "R", **lab_kw)
axes[("LR", 1)].text(1.18, -7.2, "L", **lab_kw)
axes[("UD", 1)].text(0.60, 12.7, "R", **lab_kw)
axes[("UD", 1)].text(1.16, 5.6, "L", **lab_kw)
axes[("FR", 0)].text(0.57, 19.7, "RR", **lab_kw)
axes[("FR", 0)].text(0.57, -7.0, "F", **lab_kw)
axes[("UD", 0)].text(1.90, 13.3, "HC", ha="center", va="center", fontsize=8.5, color="#111111")

arrow_kw = dict(arrowstyle="-|>", color="#333333", lw=1.0, mutation_scale=8,
                shrinkA=0, shrinkB=0)
for tail, head in [((1.09, 11.7), (1.19, 7.9)), ((1.49, 8.9), (1.61, 6.7)),
                   ((1.95, 12.3), (2.06, 9.2)), ((2.41, 12.6), (2.52, 9.5))]:
    axes[("UD", 0)].annotate("", xy=head, xytext=tail, arrowprops=arrow_kw,
                             annotation_clip=False)
for tail, head in [((1.88, 16.0), (1.65, 10.5)), ((2.40, 8.2), (2.25, 3.9)),
                   ((2.98, 16.0), (2.78, 9.6)), ((3.49, 9.4), (3.34, 5.1))]:
    axes[("UD", 1)].annotate("", xy=head, xytext=tail, arrowprops=arrow_kw,
                             annotation_clip=False)

# 1.0 s scale bar under the bottom-right panel
axr = axes[("CV", 1)]
bar_end = X_SPAN[1] - 0.03
axr.plot([bar_end - 1.0, bar_end], [-1.7, -1.7], color="#111111", lw=3.4,
         solid_capstyle="butt", clip_on=False)
axr.text(bar_end - 0.42, -4.2, "1.0 sec", ha="center", va="center",
         fontsize=12.5, fontweight="bold", color="#222222")

fig.savefig("out.png", dpi=100, facecolor="white")
